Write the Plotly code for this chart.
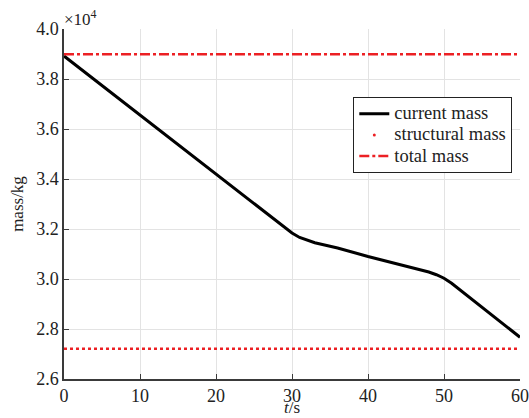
import plotly.graph_objects as go

t = [0, 5, 10, 15, 20, 25, 28, 29, 30, 31, 32, 33, 34, 36, 40, 44, 46, 47, 48, 49, 50, 51, 52, 54, 56, 58, 60]
current_mass = [38920, 37740, 36560, 35380, 34200, 33020, 32310, 32060, 31840, 31660, 31540, 31450, 31380, 31240, 30900, 30590, 30440, 30360, 30280, 30170, 30030, 29830, 29590, 29110, 28630, 28150, 27670]
structural_t = [0, 60]
structural_mass = [27210, 27210]
total_t = [0, 60]
total_mass = [38990, 38990]

yticks = [26000, 28000, 30000, 32000, 34000, 36000, 38000, 40000]
ytick_text = ["2.6", "2.8", "3.0", "3.2", "3.4", "3.6", "3.8", "4.0"]
xticks = [0, 10, 20, 30, 40, 50, 60]

RED = "rgb(236,32,36)"
FONT = "Liberation Serif, Times New Roman, serif"

def leg(name):
    return "<span style='font-size:18.5px'>" + name + "</span>"

fig = go.Figure()
fig.add_trace(go.Scatter(x=t, y=current_mass, mode="lines", name=leg("current mass"),
                         line=dict(color="black", width=3)))
fig.add_trace(go.Scatter(x=structural_t, y=structural_mass, mode="lines", name="structural mass",
                         line=dict(color=RED, width=2.5, dash="dot"), showlegend=False))
# legend entry for structural mass (MATLAB-style single dot sample)
fig.add_trace(go.Scatter(x=[None], y=[None], mode="markers", name=leg("structural mass"),
                         marker=dict(color=RED, size=3)))
fig.add_trace(go.Scatter(x=total_t, y=total_mass, mode="lines", name=leg("total mass"),
                         line=dict(color=RED, width=2.5, dash="10px,3px,3px,3px")))

axis_common = dict(showgrid=True, gridcolor="#e3e3e3", gridwidth=1,
                   showline=True, linecolor="#3a3a3a", linewidth=1.5,
                   ticks="inside", ticklen=5, tickcolor="#3a3a3a", tickwidth=1.2,
                   zeroline=False, mirror=False, automargin=False,
                   tickfont=dict(family=FONT, size=18, color="#222"))

fig.update_layout(
    width=529, height=418,
    margin=dict(l=64, r=9, t=29, b=39),
    paper_bgcolor="white", plot_bgcolor="white",
    font=dict(family=FONT, size=14, color="#222"),
    xaxis=dict(range=[0, 60], tickvals=xticks, **axis_common),
    yaxis=dict(range=[26000, 40000], tickvals=yticks, ticktext=ytick_text,
               title=dict(text="mass/kg", font=dict(family=FONT, size=17), standoff=8),
               **axis_common),
    legend=dict(x=0.634, y=0.806, xanchor="left", yanchor="top",
                bgcolor="white", bordercolor="#222", borderwidth=1.2,
                font=dict(family=FONT, size=14, color="#222"),
                tracegroupgap=0, itemwidth=30),
    showlegend=True,
)

fig.add_annotation(x=0.5, y=0, xref="paper", yref="paper", xanchor="center", yanchor="bottom",
                   text="<i>t</i>/s", showarrow=False, yshift=-39, borderpad=0,
                   font=dict(family=FONT, size=17, color="#222"))
fig.add_annotation(x=0, y=1.0, xref="paper", yref="paper", xanchor="left", yanchor="bottom",
                   text="×10<sup>4</sup>", showarrow=False, yshift=-2, xshift=-2,
                   font=dict(family=FONT, size=17, color="#222"))

fig.write_html("out.html")
